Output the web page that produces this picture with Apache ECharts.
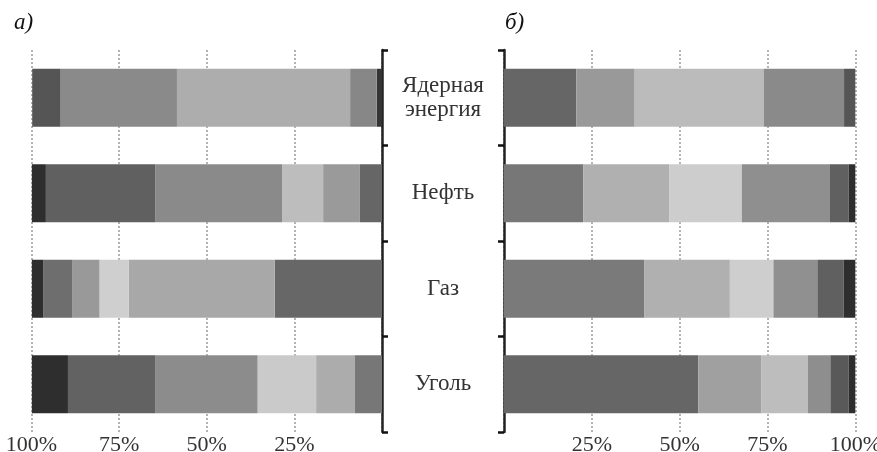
<!DOCTYPE html>
<html><head><meta charset="utf-8">
<script src="https://cdn.jsdelivr.net/npm/echarts@6/dist/echarts.min.js"></script>
<style>html,body{margin:0;padding:0;background:#fff}#c{width:877px;height:452px}</style>
</head><body><div id="c"></div>
<script>
const categories = ['Ядерная\nэнергия', 'Нефть', 'Газ', 'Уголь'];
const xTicks = [0, 25, 50, 75, 100];

// Panel a (left, axis reversed) — segments from the 0% side outward
const a1 = [1.5, 6.3, 30.6, 7.7];
const a2 = [7.6, 10.5, 41.7, 11.1];
const a3 = [49.4, 11.7, 8.3, 16.7];
const a4 = [33.2, 36.2, 7.7, 29.1];
const a5 = [8.1, 31.2, 8.3, 25.0];
const a6 = [0, 4.0, 3.3, 10.3];

// Panel б (right)
const b1 = [20.6, 22.6, 40.0, 55.3];
const b2 = [16.6, 24.4, 24.3, 17.9];
const b3 = [36.8, 20.7, 12.4, 13.3];
const b4 = [22.8, 25.1, 12.5, 6.4];
const b5 = [3.2, 5.3, 7.5, 5.2];
const b6 = [0, 1.9, 3.3, 1.9];

// styles (kept apart from data)
const colorsA = [
  ['#353535', '#666666', '#676767', '#777777'],
  ['#878787', '#9a9a9a', '#a8a8a8', '#acacac'],
  ['#adadad', '#bdbdbd', '#cfcfcf', '#cacaca'],
  ['#8a8a8a', '#8a8a8a', '#999999', '#8c8c8c'],
  ['#555555', '#606060', '#6e6e6e', '#626262'],
  ['#2e2e2e', '#2e2e2e', '#2e2e2e', '#2e2e2e']
];
const colorsB = [
  ['#666666', '#777777', '#7a7a7a', '#666666'],
  ['#999999', '#b0b0b0', '#b0b0b0', '#a0a0a0'],
  ['#bbbbbb', '#cdcdcd', '#cecece', '#bdbdbd'],
  ['#8a8a8a', '#8f8f8f', '#909090', '#8e8e8e'],
  ['#555555', '#606060', '#606060', '#595959'],
  ['#2e2e2e', '#2e2e2e', '#2e2e2e', '#2e2e2e']
];

const FONT = '"Liberation Serif", "DejaVu Serif", serif';
const chart = echarts.init(document.getElementById('c'), null, {renderer: 'canvas'});

function mkSeries(list, colors, idx, stack) {
  return list.map((arr, s) => ({
    type: 'bar', stack: stack, xAxisIndex: idx, yAxisIndex: idx,
    barWidth: 58,
    data: arr.map((v, i) => ({value: v, itemStyle: {color: colors[s][i]}})),
    silent: true
  }));
}

const xAxisCommon = (inverse) => ({
  type: 'value', min: 0, max: 100, interval: 25, inverse: inverse,
  axisLine: {show: false}, axisTick: {show: false},
  axisLabel: {
    margin: 2, color: '#333', fontFamily: FONT, fontSize: 22,
    formatter: v => (v === 0 ? '' : v + '%')
  },
  splitLine: {show: true, lineStyle: {color: '#9a9a9a', type: [2, 2], width: 1.5}}
});

chart.setOption({
  animation: false,
  backgroundColor: '#fff',
  title: [
    {text: 'a)', left: 9, top: 6, textStyle: {fontFamily: FONT, fontStyle: 'italic', fontWeight: 'normal', fontSize: 23, color: '#111'}},
    {text: 'б)', left: 500, top: 6, textStyle: {fontFamily: FONT, fontStyle: 'italic', fontWeight: 'normal', fontSize: 23, color: '#111'}}
  ],
  grid: [
    {left: 31.5, right: 495, top: 50, bottom: 20, outerBoundsMode: 'none', containLabel: false},
    {left: 504, right: 21.7, top: 50, bottom: 20, outerBoundsMode: 'none', containLabel: false}
  ],
  xAxis: [
    Object.assign({gridIndex: 0}, xAxisCommon(true)),
    Object.assign({gridIndex: 1}, xAxisCommon(false))
  ],
  yAxis: [
    {
      gridIndex: 0, type: 'category', data: categories, inverse: true, position: 'right',
      axisLine: {show: true, lineStyle: {color: '#222', width: 2.5}},
      axisTick: {show: true, length: 6, lineStyle: {color: '#111', width: 2.5}},
      axisLabel: {margin: 61, align: 'center', color: '#333', fontFamily: FONT, fontSize: 23, lineHeight: 24},
      splitLine: {show: false}
    },
    {
      gridIndex: 1, type: 'category', data: categories, inverse: true, position: 'left',
      axisLine: {show: true, lineStyle: {color: '#222', width: 2.5}},
      axisTick: {show: true, length: 6, lineStyle: {color: '#111', width: 2.5}},
      axisLabel: {show: false},
      splitLine: {show: false}
    }
  ],
  series: [].concat(
    mkSeries([a1, a2, a3, a4, a5, a6], colorsA, 0, 'a'),
    mkSeries([b1, b2, b3, b4, b5, b6], colorsB, 1, 'b')
  )
});
</script></body></html>
